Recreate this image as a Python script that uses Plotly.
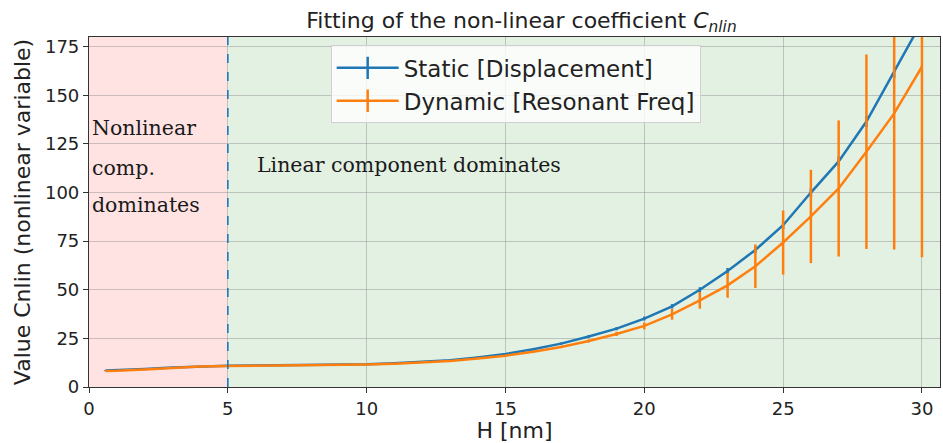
import plotly.graph_objects as go

# Layer thickness H [nm]
h_nm = [0.6, 1, 2, 3, 4, 5, 6, 7, 8, 9, 10, 11, 12, 13, 14, 15,
        16, 17, 18, 19, 20, 21, 22, 23, 24, 25, 26, 27, 28, 29, 30]

# Static fit (displacement)
static_c = [8.5, 8.6, 9.2, 10.0, 10.6, 10.9, 11.0, 11.1, 11.2, 11.4, 11.7, 12.2, 12.8, 13.7, 15.2, 17.0,
            19.4, 22.3, 26.0, 30.0, 35.2, 41.5, 50.0, 59.7, 70.5, 83.2, 100.0, 116.0, 136.5, 162.0, 188.0]
static_err = [0.3, 0.3, 0.3, 0.3, 0.3, 0.3, 0.3, 0.3, 0.3, 0.3, 0.3, 0.4, 0.4, 0.4, 0.5, 0.5,
              0.6, 0.6, 0.7, 0.8, 1.0, 1.1, 1.3, 1.5, 1.7, 2.0, 2.2, 2.5, 2.8, 3.0, 3.3]

# Dynamic fit (resonant frequency)
dynamic_c = [8.2, 8.3, 9.0, 9.9, 10.5, 10.8, 10.9, 11.0, 11.1, 11.3, 11.6, 12.0, 12.6, 13.4, 14.7, 16.1,
             18.1, 20.6, 23.7, 27.3, 31.4, 37.4, 44.6, 52.3, 62.1, 74.3, 87.7, 102.1, 121.0, 140.7, 164.7]
dynamic_err = [0.2, 0.2, 0.2, 0.2, 0.2, 0.2, 0.2, 0.2, 0.2, 0.2, 0.2, 0.2, 0.3, 0.3, 0.3, 0.4,
               0.5, 0.6, 0.8, 1.1, 1.8, 2.8, 4.3, 6.4, 11.2, 16.5, 24.0, 35.0, 50.0, 70.0, 98.0]

series_names = ["Static [Displacement]", "Dynamic [Resonant Freq]"]
colors = ["#1f77b4", "#ff7f0e"]

x_max = 30.65
y_max = 180
regime_split = 5

fig = go.Figure()

for name, ys, errs, col in zip(series_names, [static_c, dynamic_c], [static_err, dynamic_err], colors):
    fig.add_trace(go.Scatter(
        x=h_nm, y=ys, mode="lines", name=name, showlegend=False,
        line=dict(color=col, width=2.5),
        error_y=dict(type="data", array=errs, visible=True, color=col, thickness=2.5, width=0),
    ))
    # legend entry with an errorbar-style cross
    fig.add_trace(go.Scatter(
        x=[None], y=[None], mode="lines+markers", name=name,
        line=dict(color=col, width=2.5),
        marker=dict(symbol="line-ns", size=16, line=dict(color=col, width=2.5)),
    ))

# regime shading and boundary
fig.add_shape(type="rect", xref="x", yref="paper", x0=0, x1=regime_split, y0=0, y1=1,
              fillcolor="rgba(255,0,0,0.11)", line_width=0, layer="below")
fig.add_shape(type="rect", xref="x", yref="paper", x0=regime_split, x1=x_max, y0=0, y1=1,
              fillcolor="rgba(0,128,0,0.11)", line_width=0, layer="below")
fig.add_shape(type="line", xref="x", yref="paper", x0=regime_split, x1=regime_split, y0=0, y1=1,
              line=dict(color="#1f77b4", width=1.6, dash="dash"), layer="above")

serif = dict(family="DejaVu Serif", size=20.5, color="#1a1a1a")
for txt, yv in [("Nonlinear", 133), ("comp.", 112.5), ("dominates", 93.5)]:
    fig.add_annotation(x=0.05, y=yv, text=txt, xanchor="left", yanchor="middle",
                       showarrow=False, font=serif)
fig.add_annotation(x=5.98, y=114, text="Linear component dominates", xanchor="left",
                   yanchor="middle", showarrow=False, font=serif)

axis_common = dict(
    showline=True, mirror=True, linecolor="#333333", linewidth=1.2,
    ticks="outside", ticklen=5, tickwidth=1.2, tickcolor="#333333",
    showgrid=True, gridcolor="rgba(150,150,150,0.5)", gridwidth=1,
    zeroline=False, tickfont=dict(family="DejaVu Sans", size=18, color="#222222"),
)

fig.update_xaxes(range=[0, x_max], tickvals=[0, 5, 10, 15, 20, 25, 30],
                 title=dict(text="H [nm]", font=dict(family="DejaVu Sans", size=22, color="#222222"),
                            standoff=5),
                 **axis_common)
fig.update_yaxes(range=[0, y_max], tickvals=[0, 25, 50, 75, 100, 125, 150, 175],
                 title=dict(text="Value Cnlin (nonlinear variable)",
                            font=dict(family="DejaVu Sans", size=22, color="#222222"), standoff=8),
                 **axis_common)

fig.update_layout(
    width=943, height=443,
    margin=dict(l=89, r=3, t=37, b=56),
    paper_bgcolor="white", plot_bgcolor="white",
    title=dict(text="Fitting of the non-linear coefficient <i>C</i><sub><i>nlin</i></sub>",
               x=0.553, xanchor="center", y=0.955, yanchor="middle", yref="container",
               font=dict(family="DejaVu Sans", size=22, color="#222222")),
    legend=dict(x=0.284, y=0.976, xanchor="left", yanchor="top", itemwidth=62,
                bgcolor="rgba(255,255,255,0.8)", bordercolor="#d0d0d0", borderwidth=1,
                font=dict(family="DejaVu Sans", size=23, color="#222222")),
    showlegend=True,
)

fig.write_html("out.html")
